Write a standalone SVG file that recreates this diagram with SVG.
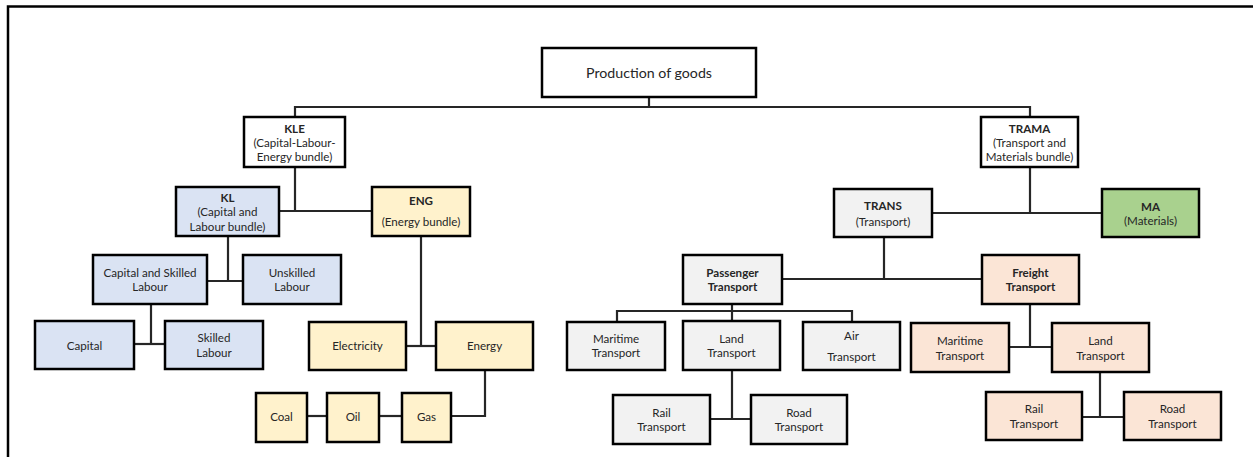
<svg xmlns="http://www.w3.org/2000/svg" width="1253" height="457" viewBox="0 0 1253 457">
<style>
.n{stroke:#000;stroke-width:2.5}
.w{fill:#fff}.b{fill:#dae3f3}.y{fill:#fff2cc}.g{fill:#f2f2f2}.p{fill:#fbe5d6}.m{fill:#a9d18e}
text{font-family:Lato,"Liberation Sans",sans-serif;font-size:11.6px;fill:#262626;text-anchor:middle;dominant-baseline:central}
.h{font-weight:bold}
.big{font-size:14.2px}
#connectors path{fill:none;stroke:#262626;stroke-width:2.2}
</style>
<rect width="1253" height="457" fill="#fff"/>
<path d="M8,457 V6.5 H1253" fill="none" stroke="#000" stroke-width="2.5"/>
<g id="connectors">
<path d="M649,97 V107"/>
<path d="M295,117 V107 H1030 V117"/>
<path d="M295,167 V211"/>
<path d="M279,211 H372"/>
<path d="M228,236 V281"/>
<path d="M207,281 H243"/>
<path d="M151,304 V344"/>
<path d="M134,344 H165"/>
<path d="M421,236 V346"/>
<path d="M406,346 H436"/>
<path d="M485,370 V416 H451"/>
<path d="M307,416 H327"/>
<path d="M379,416 H402"/>
<path d="M1030,167 V213"/>
<path d="M932,213 H1102"/>
<path d="M884,237 V279"/>
<path d="M782,279 H982"/>
<path d="M732,304 V311"/>
<path d="M617,322 V311 H852 V322"/>
<path d="M732,311 V321"/>
<path d="M732,370 V419"/>
<path d="M710,419 H751"/>
<path d="M1030,304 V347"/>
<path d="M1009,347 H1052"/>
<path d="M1100,372 V417"/>
<path d="M1082,417 H1124"/>
</g>
<g id="production"><rect class="n w" x="542" y="48" width="214" height="49"/><text class="big" x="649" y="72">Production of goods</text></g>
<g id="kle"><rect class="n w" x="244" y="117" width="101" height="50"/><text class="h" x="294.5" y="128">KLE</text><text x="294.5" y="142.5">(Capital-Labour-</text><text x="294.5" y="156.5">Energy bundle)</text></g>
<g id="kl"><rect class="n b" x="176" y="187" width="103" height="49"/><text class="h" x="227.5" y="197.5">KL</text><text x="227.5" y="211.5">(Capital and</text><text x="227.5" y="226">Labour bundle)</text></g>
<g id="eng"><rect class="n y" x="372" y="187" width="98" height="49"/><text class="h" x="421" y="200">ENG</text><text x="421" y="221">(Energy bundle)</text></g>
<g id="capskilled"><rect class="n b" x="93" y="255" width="114" height="49"/><text x="150" y="272.5">Capital and Skilled</text><text x="150" y="286.5">Labour</text></g>
<g id="unskilled"><rect class="n b" x="243" y="255" width="98" height="49"/><text x="292" y="272.5">Unskilled</text><text x="292" y="286.5">Labour</text></g>
<g id="capital"><rect class="n b" x="35" y="321" width="99" height="48"/><text x="84.5" y="345">Capital</text></g>
<g id="skilled"><rect class="n b" x="165" y="321" width="98" height="48"/><text x="214" y="337.5">Skilled</text><text x="214" y="352">Labour</text></g>
<g id="electricity"><rect class="n y" x="309" y="322" width="97" height="48"/><text x="357.5" y="345.5">Electricity</text></g>
<g id="energy"><rect class="n y" x="436" y="322" width="97" height="48"/><text x="484.5" y="345.5">Energy</text></g>
<g id="coal"><rect class="n y" x="256" y="393" width="51" height="49"/><text x="281.5" y="416">Coal</text></g>
<g id="oil"><rect class="n y" x="327" y="393" width="52" height="49"/><text x="353" y="416">Oil</text></g>
<g id="gas"><rect class="n y" x="402" y="393" width="49" height="49"/><text x="426.5" y="416">Gas</text></g>
<g id="trama"><rect class="n w" x="981" y="117" width="97" height="50"/><text class="h" x="1029.5" y="128">TRAMA</text><text x="1029.5" y="142.5">(Transport and</text><text x="1029.5" y="156.5">Materials bundle)</text></g>
<g id="trans"><rect class="n g" x="834" y="189" width="98" height="48"/><text class="h" x="883" y="205.5">TRANS</text><text x="883" y="221.5">(Transport)</text></g>
<g id="ma"><rect class="n m" x="1102" y="189" width="97" height="48"/><text class="h" x="1150.5" y="206">MA</text><text x="1150.5" y="220.5">(Materials)</text></g>
<g id="passenger"><rect class="n g" x="683" y="255" width="99" height="49"/><text class="h" x="732.5" y="272">Passenger</text><text class="h" x="732.5" y="286.5">Transport</text></g>
<g id="freight"><rect class="n p" x="982" y="255" width="97" height="49"/><text class="h" x="1030.5" y="272">Freight</text><text class="h" x="1030.5" y="286.5">Transport</text></g>
<g id="pmaritime"><rect class="n g" x="567" y="322" width="98" height="48"/><text x="616" y="338">Maritime</text><text x="616" y="352.5">Transport</text></g>
<g id="pland"><rect class="n g" x="683" y="321" width="97" height="49"/><text x="731.5" y="338">Land</text><text x="731.5" y="352.5">Transport</text></g>
<g id="pair"><rect class="n g" x="803" y="322" width="97" height="48"/><text x="851.5" y="335.5">Air</text><text x="851.5" y="356">Transport</text></g>
<g id="prail"><rect class="n g" x="613" y="395" width="97" height="49"/><text x="661.5" y="412">Rail</text><text x="661.5" y="426.5">Transport</text></g>
<g id="proad"><rect class="n g" x="751" y="395" width="96" height="49"/><text x="799" y="412">Road</text><text x="799" y="426.5">Transport</text></g>
<g id="fmaritime"><rect class="n p" x="911" y="323" width="98" height="49"/><text x="960" y="340">Maritime</text><text x="960" y="355">Transport</text></g>
<g id="fland"><rect class="n p" x="1052" y="323" width="97" height="49"/><text x="1100.5" y="340">Land</text><text x="1100.5" y="355">Transport</text></g>
<g id="frail"><rect class="n p" x="986" y="392" width="96" height="48"/><text x="1034" y="408.5">Rail</text><text x="1034" y="423.5">Transport</text></g>
<g id="froad"><rect class="n p" x="1124" y="392" width="97" height="48"/><text x="1172.5" y="408.5">Road</text><text x="1172.5" y="423.5">Transport</text></g>
</svg>
